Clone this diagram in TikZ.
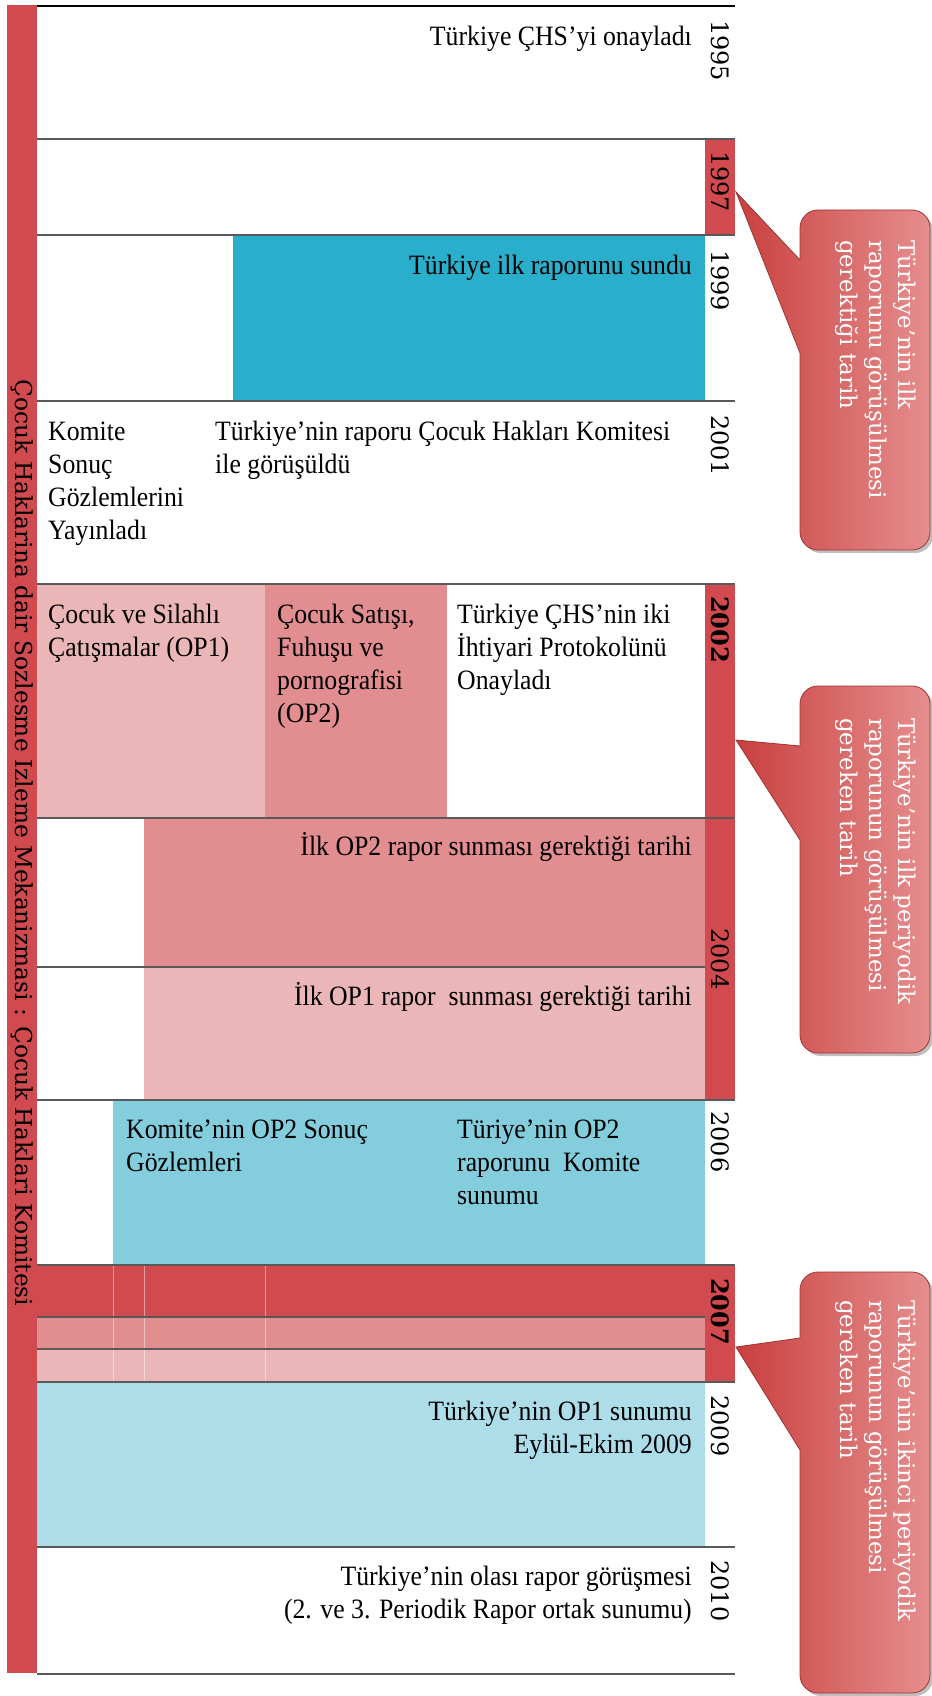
\documentclass[tikz,border=0pt]{standalone}
\usepackage{fontspec}
\setmainfont[FakeStretch=0.92]{Liberation Serif}
\newfontfamily\dejaserif{DejaVu Serif}
\usetikzlibrary{positioning}

\definecolor{barred}{HTML}{D14A4F}
\definecolor{midpink}{HTML}{E28E90}
\definecolor{lightpink}{HTML}{EBB6B7}
\definecolor{deepblue}{HTML}{29AFCB}
\definecolor{midblue}{HTML}{83CDDD}
\definecolor{paleblue}{HTML}{ADDDE9}
\definecolor{notedark}{HTML}{C8403F}
\definecolor{notelight}{HTML}{E68E8E}

\tikzset{
  event/.style={font=\fontsize{28}{33}\selectfont, inner sep=0pt, align=left, anchor=base west},
  eventr/.style={event, align=right, anchor=base east},
  yearlbl/.style={font=\dejaserif\fontsize{24}{28}\selectfont, rotate=-90, anchor=west, inner sep=0pt},
  notetxt/.style={white, font=\dejaserif\fontsize{23}{29}\selectfont, rotate=-90, anchor=west, align=left, inner sep=0pt},
  rowline/.style={draw=black!65, line width=1.4pt},
}

% callout outline: top, bottom, tip y, base top, base bottom
\newcommand{\bubblepath}[5]{(736,#3) -- (800,#4) -- (800,#4-8) [rounded corners=18pt] -- (800,#1) -- (930,#1) -- (930,#2) -- (800,#2) [sharp corners] -- (800,#5+8) -- (800,#5) -- cycle}

\begin{document}
\begin{tikzpicture}[x=1pt,y=-1pt]
\useasboundingbox (0,0) rectangle (931,1696);

% left bar
\fill[barred] (7,5) rectangle (37,1673);
\node[font=\dejaserif\fontsize{23.3}{26}\selectfont, rotate=-90, inner sep=0pt] (bartitle) at (22,843) {Çocuk Haklarina dair Sozlesme Izleme Mekanizmasi : Çocuk Haklari Komitesi};

% coloured periods
\fill[barred] (705,139) rectangle (735,235);
\fill[deepblue] (233,235) rectangle (705,401);
\fill[lightpink] (37,584) rectangle (265,818);
\fill[midpink] (265,584) rectangle (447,818);
\fill[barred] (705,584) rectangle (735,1100);
\fill[midpink] (144,818) rectangle (705,967);
\fill[lightpink] (144,967) rectangle (705,1100);
\fill[midblue] (113,1100) rectangle (705,1265);
\fill[barred] (37,1265) rectangle (735,1317);
\fill[midpink] (37,1317) rectangle (705,1349);
\fill[lightpink] (37,1349) rectangle (705,1382);
\fill[barred] (705,1317) rectangle (735,1382);
\fill[paleblue] (37,1382) rectangle (705,1547);
\foreach \x in {113,144,265}
  \draw[white, opacity=.45, line width=1pt] (\x,1265) -- (\x,1382);

% row lines
\draw[black, line width=1.4pt] (37,6) -- (735,6);
\foreach \y in {139,235,401,584,818,1100,1265,1382,1547,1674}
  \draw[rowline] (37,\y) -- (735,\y);
\foreach \y in {967,1317,1349}
  \draw[rowline] (37,\y) -- (705,\y);

% years
\node[yearlbl] (y1995) at (720,20) {1995};
\node[yearlbl] (y1997) at (720,151) {1997};
\node[yearlbl] (y1999) at (720,250) {1999};
\node[yearlbl] (y2001) at (720,415) {2001};
\node[yearlbl, font=\dejaserif\bfseries\fontsize{24}{28}\selectfont] (y2002) at (720,596) {2002};
\node[yearlbl] (y2004) at (720,928) {2004};
\node[yearlbl] (y2006) at (720,1111) {2006};
\node[yearlbl, font=\dejaserif\bfseries\fontsize{24}{28}\selectfont] (y2007) at (720,1278) {2007};
\node[yearlbl] (y2009) at (720,1395) {2009};
\node[yearlbl] (y2010) at (720,1560) {2010};

% events (multi-line nodes sit on their last baseline)
\node[eventr] (e1995) at (692,46) {Türkiye ÇHS’yi onayladı};
\node[eventr] (e1999) at (692,274) {Türkiye ilk raporunu sundu};
\node[event] (e2001a) at (48,539) {Komite\\Sonuç\\Gözlemlerini\\Yayınladı};
\node[event] (e2001b) at (215,473) {Türkiye’nin raporu Çocuk Hakları Komitesi\\ile görüşüldü};
\node[event] (op1) at (48,656) {Çocuk ve Silahlı\\Çatışmalar (OP1)};
\node[event] (op2) at (277,722) {Çocuk Satışı,\\Fuhuşu ve\\pornografisi\\(OP2)};
\node[event] (e2002) at (457,689) {Türkiye ÇHS’nin iki\\İhtiyari Protokolünü\\Onayladı};
\node[eventr] (due2) at (692,855) {İlk OP2 rapor sunması gerektiği tarihi};
\node[eventr] (due1) at (692,1005) {İlk OP1 rapor\ \ sunması gerektiği tarihi};
\node[event] (e2006a) at (126,1171) {Komite’nin OP2 Sonuç\\Gözlemleri};
\node[event] (e2006b) at (457,1204) {Türiye’nin OP2\\raporunu\ \ Komite\\sunumu};
\node[eventr] (e2009) at (692,1453) {Türkiye’nin OP1 sunumu\\Eylül-Ekim 2009};
\node[eventr] (e2010) at (692,1618) {Türkiye’nin olası rapor görüşmesi\\(2. ve 3. Periodik Rapor ortak sunumu)};

% callouts
\fill[black, opacity=.25, xshift=3pt, yshift=-3pt] \bubblepath{210}{550}{192}{260}{353};
\shadedraw[left color=notedark, right color=notelight, draw=notedark!80!black, line width=.8pt] \bubblepath{210}{550}{192}{260}{353};
\node[notetxt] (note1) at (876,240) {Türkiye’nin ilk\\raporunu görüşülmesi\\gerektiği tarih};

\fill[black, opacity=.25, xshift=3pt, yshift=-3pt] \bubblepath{686}{1053}{740}{746}{840};
\shadedraw[left color=notedark, right color=notelight, draw=notedark!80!black, line width=.8pt] \bubblepath{686}{1053}{740}{746}{840};
\node[notetxt] (note2) at (876,718) {Türkiye’nin ilk periyodik\\raporunun görüşülmesi\\gereken tarih};

\fill[black, opacity=.25, xshift=3pt, yshift=-3pt] \bubblepath{1272}{1693}{1347}{1338}{1450};
\shadedraw[left color=notedark, right color=notelight, draw=notedark!80!black, line width=.8pt] \bubblepath{1272}{1693}{1347}{1338}{1450};
\node[notetxt] (note3) at (876,1300) {Türkiye’nin ikinci periyodik\\raporunun görüşülmesi\\gereken tarih};
\end{tikzpicture}
\end{document}
